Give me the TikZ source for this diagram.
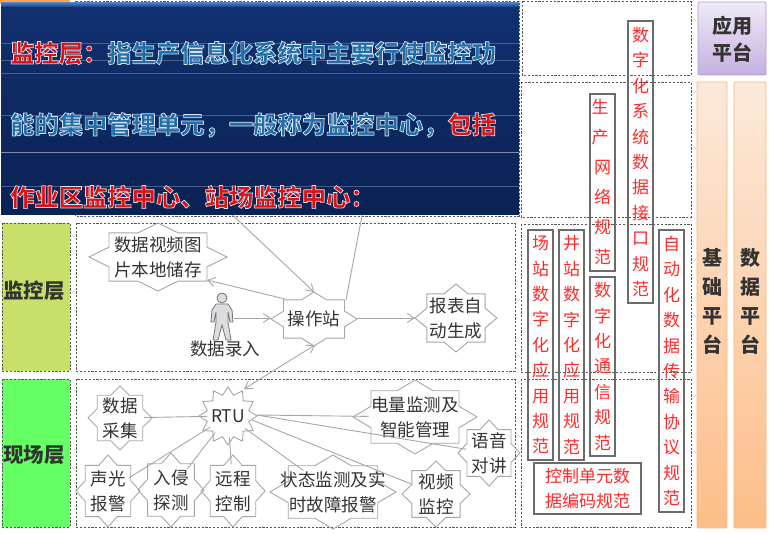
\documentclass[tikz,border=0pt]{standalone}
\usepackage{fontspec}
\setmainfont{Noto Sans CJK SC}
\usetikzlibrary{arrows.meta,shapes.geometric}
\definecolor{inkdark}{HTML}{333333}
\definecolor{conn}{HTML}{A6A6A6}
\definecolor{dashc}{HTML}{555555}
\definecolor{redtxt}{HTML}{FF2A2A}
\definecolor{ptblue}{HTML}{1F6FA8}
\definecolor{ptred}{HTML}{E01010}
\definecolor{plA}{HTML}{4A5F8C}
\definecolor{plB}{HTML}{7F8DA8}
\definecolor{plTop}{HTML}{FCE9DA}
\definecolor{plBot}{HTML}{FDBE88}
\definecolor{plEdge}{HTML}{F9B87C}
\newcommand{\outl}[2]{{\color{#1}\special{pdf:code 2 Tr 0.7 w 0.85 0.89 0.94 RG}#2\special{pdf:code 0 Tr}}}
\tikzset{
  x=1pt,y=-1pt,
  dashbox/.style={draw=dashc,line width=0.9pt,dash pattern=on 2.2pt off 1.6pt},
  starline/.style={draw=conn,line width=0.9pt},
  link/.style={draw=conn,line width=0.9pt},
  arrowlink/.style={link,-{Straight Barb[length=7pt,width=9pt]}},
  startext/.style={text=inkdark,align=center,inner sep=0pt,font=\fontsize{17.5}{25}\selectfont},
  stararea/.style={ellipse,inner sep=0pt,outer sep=0pt},
  redbox/.style={draw=black!58,line width=1.2pt,text=redtxt,align=center,inner sep=0pt,font=\fontsize{17}{25.4}\selectfont},
  paneltext/.style={anchor=west,inner sep=0pt,font=\bfseries\fontsize{24.3}{26}\selectfont},
  layerlabel/.style={text=inkdark,inner sep=0pt,font=\bfseries\fontsize{20.5}{26}\selectfont},
  platlabel/.style={text=inkdark,align=center,inner sep=0pt,font=\bfseries\fontsize{20}{29}\selectfont},
  panelline/.style={draw=#1,line width=0.7pt},
  platcol/.style={draw=plEdge,line width=0.8pt,top color=plTop,bottom color=plBot,rounded corners=1pt},
}
% name, cx, cy, rx, ry, text : rectangle + rhombus outline
\newcommand{\starnode}[6]{%
  \draw[starline,shift={(#2,#3)}]
    (0,{-#5}) -- ({.29*#4},{-.71*#5}) -- ({.71*#4},{-.71*#5}) -- ({.71*#4},{-.29*#5})
    -- (#4,0) -- ({.71*#4},{.29*#5}) -- ({.71*#4},{.71*#5}) -- ({.29*#4},{.71*#5})
    -- (0,#5) -- ({-.29*#4},{.71*#5}) -- ({-.71*#4},{.71*#5}) -- ({-.71*#4},{.29*#5})
    -- ({-#4},0) -- ({-.71*#4},{-.29*#5}) -- ({-.71*#4},{-.71*#5}) -- ({-.29*#4},{-.71*#5}) -- cycle;
  \node[stararea,minimum width={1.5*#4*1pt},minimum height={1.5*#5*1pt}] (#1) at (#2,#3) {};
  \node[startext] (#1-t) at (#2,#3) {#6};
}
\begin{document}
\begin{tikzpicture}
\useasboundingbox (0,0) rectangle (769,534);
\fill[white] (0,0) rectangle (769,534);
% hidden layer behind the panel
\fill[orange!70] (0,0) rectangle (70,4);
\draw[dashbox] (75,1) rectangle (519,216);
% layer boxes
\draw[dashbox,fill={rgb,255:red,198;green,224;blue,106}] (2,223) rectangle (70,371);
\draw[dashbox,fill={rgb,255:red,102;green,255;blue,102}] (2,379) rectangle (70,527);
\node[layerlabel] (lmon) at (34,291) {监控层};
\node[layerlabel] (lfld) at (34,455) {现场层};
\draw[dashbox] (76,223) rectangle (515,371);
\draw[dashbox] (76,379) rectangle (515,527);
% stars
\starnode{store}{158}{257}{69}{34}{数据视频图\\片本地储存}
\starnode{op}{314}{319}{43}{27}{操作站}
\starnode{rep}{456}{318}{41}{34}{报表自\\动生成}
\starnode{acq}{120}{418}{32}{32}{数据\\采集}
\starnode{alarm}{108}{491}{32}{36}{声光\\报警}
\starnode{intr}{171}{490}{33}{37}{入侵\\探测}
\starnode{remote}{233}{491}{32}{36}{远程\\控制}
\starnode{state}{333}{492}{63}{37}{状态监测及实\\时故障报警}
\starnode{video}{436}{494}{34}{33}{视频\\监控}
\starnode{voice}{489}{453}{31}{33}{语音\\对讲}
\starnode{power}{415}{417}{62}{37}{电量监测及\\智能管理}
% RTU
\draw[starline,shift={(228,416)}] plot[samples at={0,1,...,23},variable=\i]
  ({29*(1-.26*mod(\i,2))*sin(\i*15)},{-29*(1-.26*mod(\i,2))*cos(\i*15)}) -- cycle;
\node[stararea,minimum width=42pt,minimum height=42pt] (rtu) at (228,416) {};
\node[startext] (rtu-t) at (228,416) {RTU};
% actor
\draw[draw=black!55,fill=blue!6!gray!25,line width=0.8pt]
  (216,304) -- (228,304) -- (232,310) -- (233,322) -- (230,322) -- (228,312) -- (228,322)
  -- (231,340) -- (226,340) -- (222,325) -- (218,340) -- (213,340) -- (216,322) -- (216,312)
  -- (214,322) -- (211,322) -- (212,310) -- cycle;
\node[circle,draw=black!55,fill=blue!6!gray!25,line width=0.8pt,minimum size=10pt,inner sep=0pt] (actor) at (222,298) {};
\node[startext] (actorl) at (225,349) {数据录入};
% connector ends
\coordinate (actorR) at (234,318);
\coordinate (opL) at (271,318);
\coordinate (opR) at (357,318);
\coordinate (repL) at (415,318);
\coordinate (opNW) at (285,299);
\coordinate (storeSE) at (207,280);
\coordinate (opN) at (314,292);
\coordinate (upA) at (225,208);
\coordinate (opNE) at (346,300);
\coordinate (upB) at (364,205);
\coordinate (rtuNE) at (244,389);
\coordinate (opS) at (315,345);
\coordinate (rtuE) at (257,415);
\coordinate (rtuEb) at (252,420);
% connectors
\draw[arrowlink] (actorR) -- (opL);
\draw[arrowlink] (opR) -- (repL);
\draw[arrowlink] (opNW) -- (storeSE);
\draw[arrowlink] (upA) -- (opN);
\draw[link] (opNE) -- (upB);
\draw[link,{Straight Barb[length=7pt,width=9pt]}-{Straight Barb[length=7pt,width=9pt]}] (rtuNE) -- (opS);
\draw[link] (acq) -- (rtu);
\draw[link] (rtu) -- (alarm);
\draw[link] (rtu) -- (intr);
\draw[link] (rtu) -- (remote);
\draw[link] (rtu) -- (state);
\draw[link] (rtuE) -- (power);
\draw[link] (rtuE) -- (voice);
\draw[link] (rtuEb) -- (video);
% navy panel
\fill[top color={rgb,255:red,70;green,120;blue,190},bottom color={rgb,255:red,16;green,48;blue,112}] (1,3) rectangle (519,8);
\fill[top color={rgb,255:red,17;green,48;blue,112},bottom color={rgb,255:red,10;green,34;blue,84}] (1,8) rectangle (519,215);
\draw[panelline=plA] (1,43) -- (519,43);
\draw[panelline=plA] (1,60) -- (519,60);
\draw[panelline=plA] (1,73) -- (519,73);
\draw[panelline=plA] (1,115) -- (519,115);
\draw[panelline=plB] (1,152.5) -- (519,152.5);
\draw[panelline=plA] (1,186) -- (519,186);
\node[paneltext] (p1) at (10,53) {\outl{ptred}{监控层：}\outl{ptblue}{指生产信息化系统中主要行使监控功}};
\node[paneltext] (p2) at (10,125) {\outl{ptblue}{能的集中管理单元，一般称为监控中心，}\outl{ptred}{包括}};
\node[paneltext] (p3) at (10,197) {\outl{ptred}{作业区监控中心、站场监控中心：}};
% right column dashed boxes
\draw[dashbox] (522,1) rectangle (691,75);
\draw[dashbox] (521,82) rectangle (691,217);
\draw[dashbox] (521,224) rectangle (691,372);
\draw[dashbox] (521,379) rectangle (691,527);
% standards
\node[redbox,minimum width=25pt,minimum height=282pt] (s1) at (640.5,162) {数\\字\\化\\系\\统\\数\\据\\接\\口\\规\\范};
\node[redbox,minimum width=25pt,minimum height=177pt,font=\fontsize{17}{30}\selectfont] (s2) at (602.5,182.5) {\hspace{-5pt}生\\\hspace{-5pt}产\\网\\络\\规\\范};
\node[redbox,minimum width=25pt,minimum height=179pt] (s3) at (602.5,366.5) {数\\字\\化\\通\\信\\规\\范};
\node[redbox,minimum width=25pt,minimum height=230pt] (s4) at (540.5,345) {场\\站\\数\\字\\化\\应\\用\\规\\范};
\node[redbox,minimum width=25pt,minimum height=230pt] (s5) at (571.5,345) {井\\站\\数\\字\\化\\应\\用\\规\\范};
\node[redbox,minimum width=25pt,minimum height=282pt] (s6) at (671.5,371) {自\\动\\化\\数\\据\\传\\输\\协\\议\\规\\范};
\node[redbox,minimum width=107pt,minimum height=51pt] (s7) at (587.5,488.5) {控制单元数\\据编码规范};
% platforms
\draw[draw={rgb,255:red,176;green,154;blue,208},line width=0.9pt,top color={rgb,255:red,240;green,234;blue,248},bottom color={rgb,255:red,196;green,176;blue,224},rounded corners=1pt] (698,2) rectangle (766,75);
\node[platlabel,font=\bfseries\fontsize{20}{27}\selectfont] (pa) at (732,39.5) {应用\\平台};
\draw[platcol] (697,82) rectangle (727,528);
\draw[platcol] (734,82) rectangle (766,528);
\node[platlabel] (pb) at (712,301) {基\\础\\平\\台};
\node[platlabel] (pc) at (750,301) {数\\据\\平\\台};
\end{tikzpicture}
\end{document}
